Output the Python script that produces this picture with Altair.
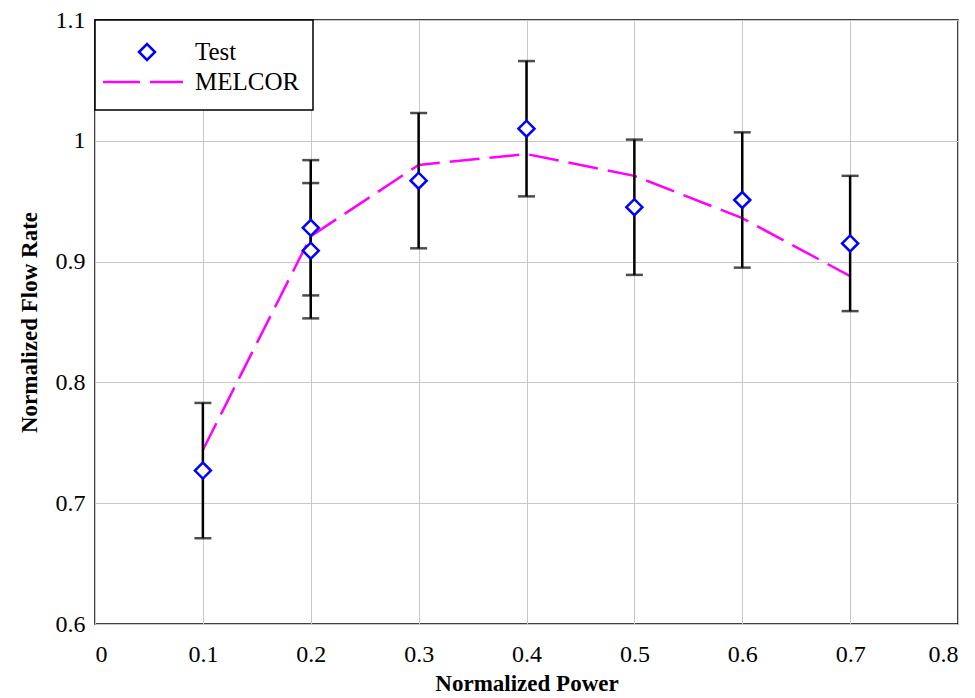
import altair as alt
import pandas as pd

# Test data (two measurements at 0.2)
test_x = [0.1, 0.2, 0.2, 0.3, 0.4, 0.5, 0.6, 0.7]
test_y = [0.727, 0.928, 0.909, 0.967, 1.010, 0.945, 0.951, 0.915]
test_err = [0.056, 0.056, 0.056, 0.056, 0.056, 0.056, 0.056, 0.056]

melcor_x = [0.1, 0.2, 0.3, 0.4, 0.5, 0.6, 0.7]
melcor_y = [0.744, 0.921, 0.980, 0.989, 0.971, 0.936, 0.888]

x_ticks = [0, 0.1, 0.2, 0.3, 0.4, 0.5, 0.6, 0.7, 0.8]
y_ticks = [0.6, 0.7, 0.8, 0.9, 1.0, 1.1]

legend_labels = ["Test", "MELCOR"]

FONT = "Liberation Serif"
W, H = 863, 604

test_df = pd.DataFrame({
    "x": test_x,
    "y": test_y,
    "lo": [v - e for v, e in zip(test_y, test_err)],
    "hi": [v + e for v, e in zip(test_y, test_err)],
})
mel_df = pd.DataFrame({"x": melcor_x, "y": melcor_y})

xs = alt.Scale(domain=[0, 0.8], nice=False, zero=False)
ys = alt.Scale(domain=[0.6, 1.1], nice=False, zero=False)

common = dict(
    grid=True, domain=False, ticks=False, gridColor="#c8c8c8", gridWidth=1,
    labelFont=FONT, labelFontSize=24, labelColor="black",
    titleFont=FONT, titleFontSize=23, titleFontWeight="bold", titleColor="black",
)
xax = alt.Axis(values=x_ticks, format=".1~f", title="Normalized Power",
               labelPadding=18, titlePadding=6, **common)
yax = alt.Axis(values=y_ticks, format=".1~f", title="Normalized Flow Rate",
               labelPadding=10, titlePadding=14, **common)

base = alt.Chart(test_df)

bars = base.mark_rule(color="black", strokeWidth=2.5).encode(
    x=alt.X("x:Q", scale=xs, axis=xax),
    y=alt.Y("lo:Q", scale=ys, axis=yax),
    y2="hi:Q",
)
cap_lo = base.mark_tick(color="black", orient="horizontal", size=17, thickness=2.5).encode(
    x=alt.X("x:Q", scale=xs), y=alt.Y("lo:Q", scale=ys)
)
cap_hi = base.mark_tick(color="black", orient="horizontal", size=17, thickness=2.5).encode(
    x=alt.X("x:Q", scale=xs), y=alt.Y("hi:Q", scale=ys)
)

line = alt.Chart(mel_df).mark_line(
    color="#FF00FF", strokeWidth=2.5, strokeDash=[30, 10]
).encode(x=alt.X("x:Q", scale=xs), y=alt.Y("y:Q", scale=ys))

pts = base.mark_point(
    shape="diamond", size=256, stroke="#0000FF", fill="white", filled=True,
    strokeWidth=2.5, opacity=1, fillOpacity=1
).encode(x=alt.X("x:Q", scale=xs), y=alt.Y("y:Q", scale=ys))

# Legend box (drawn in pixel space of the plot area)
leg_df = pd.DataFrame({"label": legend_labels, "ty": [32, 62]})
leg_box = alt.Chart(pd.DataFrame({"a": [0]})).mark_rect(
    fill="white", stroke="black", strokeWidth=1.5
).encode(x=alt.value(0), x2=alt.value(218), y=alt.value(0), y2=alt.value(90))
leg_pt = alt.Chart(pd.DataFrame({"a": [0]})).mark_point(
    shape="diamond", size=256, stroke="#0000FF", fill="white", filled=True,
    strokeWidth=2.5, opacity=1, fillOpacity=1
).encode(x=alt.value(52), y=alt.value(32))
leg_line = alt.Chart(pd.DataFrame({"a": [0]})).mark_rule(
    color="#FF00FF", strokeWidth=2.5, strokeDash=[37, 10]
).encode(x=alt.value(8), x2=alt.value(88), y=alt.value(62))
leg_text = alt.Chart(leg_df).mark_text(
    align="left", baseline="middle", font=FONT, fontSize=25, color="black"
).encode(x=alt.value(100), y=alt.Y("ty:Q", scale=None), text="label:N")

chart = alt.layer(
    line, bars, cap_lo, cap_hi, pts, leg_box, leg_pt, leg_line, leg_text
).properties(
    width=W, height=H,
    autosize=alt.AutoSizeParams(type="none"),
    padding={"left": 87, "top": 12, "right": 9, "bottom": 70},
    background="white",
).configure_view(
    stroke="black", strokeWidth=1.5
)

chart.save("out.html", embed_options={"renderer": "svg", "actions": False})
